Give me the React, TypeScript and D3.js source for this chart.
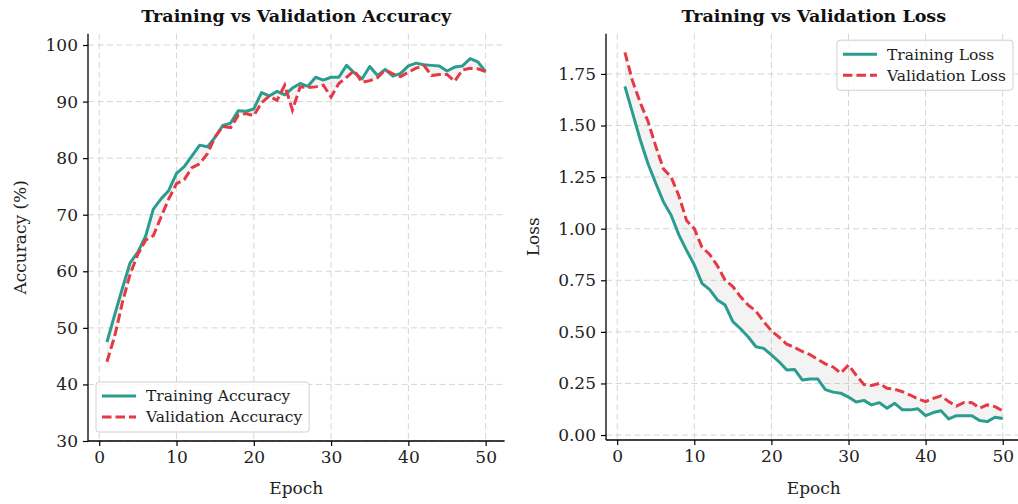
import React, { useEffect, useRef } from "react";
import * as d3 from "d3";

// epochs 1..50
const epochs = d3.range(1, 51);

const trainAcc = [
  47.5, 52.3, 57.0, 61.5, 63.4, 66.2, 71.0, 72.8, 74.3, 77.3,
  78.5, 80.4, 82.3, 82.0, 83.7, 85.8, 86.2, 88.4, 88.3, 88.7,
  91.6, 91.0, 91.8, 91.2, 92.4, 93.2, 92.7, 94.3, 93.8, 94.3,
  94.3, 96.4, 95.1, 94.0, 96.2, 94.6, 95.7, 94.5, 95.0, 96.3,
  96.8, 96.5, 96.4, 96.3, 95.4, 96.1, 96.3, 97.6, 97.0, 95.3,
];
const valAcc = [
  44.0, 48.5, 54.5, 59.5, 63.0, 65.5, 66.3, 69.6, 72.8, 75.5,
  76.2, 78.3, 79.0, 80.8, 83.8, 85.6, 85.4, 87.6, 87.9, 87.5,
  89.8, 91.0, 90.2, 92.9, 88.5, 92.6, 92.5, 92.6, 92.9, 90.8,
  93.2, 94.3, 95.5, 93.4, 93.7, 94.2, 95.6, 94.9, 94.4, 95.2,
  95.9, 96.4, 94.6, 94.8, 94.8, 93.6, 95.6, 95.9, 95.8, 95.3,
];
const trainLoss = [
  1.69, 1.56, 1.43, 1.315, 1.22, 1.13, 1.065, 0.97, 0.895, 0.825,
  0.735, 0.705, 0.655, 0.63, 0.55, 0.515, 0.475, 0.428, 0.42, 0.388,
  0.355, 0.315, 0.318, 0.267, 0.272, 0.272, 0.22, 0.208, 0.203, 0.184,
  0.16, 0.168, 0.146, 0.157, 0.13, 0.154, 0.122, 0.122, 0.127, 0.094,
  0.109, 0.118, 0.078, 0.094, 0.094, 0.094, 0.07, 0.065, 0.086, 0.08,
];
const valLoss = [
  1.855, 1.715, 1.61, 1.52, 1.4, 1.29, 1.25, 1.16, 1.04, 1.0,
  0.91, 0.875, 0.82, 0.75, 0.72, 0.67, 0.63, 0.6, 0.55, 0.505,
  0.475, 0.44, 0.425, 0.405, 0.39, 0.367, 0.345, 0.33, 0.3, 0.34,
  0.29, 0.245, 0.24, 0.25, 0.227, 0.222, 0.21, 0.194, 0.175, 0.162,
  0.178, 0.19, 0.162, 0.14, 0.158, 0.157, 0.13, 0.146, 0.138, 0.117,
];

const epochTicks = [0, 10, 20, 30, 40, 50];
const accTicks = [30, 40, 50, 60, 70, 80, 90, 100];
const lossTicks = [0, 0.25, 0.5, 0.75, 1.0, 1.25, 1.5, 1.75];

const TEAL = "#2a9d8f";
const RED = "#e63946";
const FONT = "'DejaVu Serif', serif";

const App = () => {
  const svgRef = useRef<SVGSVGElement>(null);

  useEffect(() => {
    const svg = d3.select(svgRef.current);
    svg.selectAll("*").remove();

    const panels = [
      {
        left: 88, right: 504.6, top: 33.7, bottom: 441,
        yDomain: [30, 102], yTicks: accTicks, yFmt: (d: number) => String(d),
        train: trainAcc, val: valAcc,
        title: "Training vs Validation Accuracy", ylabel: "Accuracy (%)", ylabelX: 20,
        names: ["Training Accuracy", "Validation Accuracy"], legendLoc: "lower left",
      },
      {
        left: 606, right: 1021.6, top: 33.7, bottom: 440,
        yDomain: [-0.024, 1.945], yTicks: lossTicks, yFmt: d3.format(".2f"),
        train: trainLoss, val: valLoss,
        title: "Training vs Validation Loss", ylabel: "Loss", ylabelX: 533,
        names: ["Training Loss", "Validation Loss"], legendLoc: "upper right",
      },
    ];

    panels.forEach((p) => {
      const x = d3.scaleLinear().domain([-1.45, 52.45]).range([p.left, p.right]);
      const y = d3.scaleLinear().domain(p.yDomain).range([p.bottom, p.top]);
      const g = svg.append("g");

      // grid
      epochTicks.forEach((t) => {
        g.append("line")
          .attr("x1", x(t)).attr("x2", x(t))
          .attr("y1", p.top).attr("y2", p.bottom)
          .attr("stroke", "#d6d6d6").attr("stroke-width", 1)
          .attr("stroke-dasharray", "6,3.5");
      });
      p.yTicks.forEach((t) => {
        g.append("line")
          .attr("x1", p.left).attr("x2", p.right)
          .attr("y1", y(t)).attr("y2", y(t))
          .attr("stroke", "#d6d6d6").attr("stroke-width", 1)
          .attr("stroke-dasharray", "6,3.5");
      });

      // shaded gap between curves
      const area = d3.area<number>()
        .x((d) => x(d))
        .y0((d, i) => y(p.val[i]))
        .y1((d, i) => y(p.train[i]));
      g.append("path").datum(epochs).attr("d", area)
        .attr("fill", "#888").attr("opacity", 0.1);

      const line = (vals: number[]) =>
        d3.line<number>().x((d) => x(d)).y((d, i) => y(vals[i]))(epochs);

      g.append("path").attr("d", line(p.train))
        .attr("fill", "none").attr("stroke", TEAL).attr("stroke-width", 3)
        .attr("stroke-linejoin", "round");
      g.append("path").attr("d", line(p.val))
        .attr("fill", "none").attr("stroke", RED).attr("stroke-width", 3)
        .attr("stroke-dasharray", "9.5,4");

      // axes
      const xAxis = g.append("g")
        .attr("transform", `translate(0,${p.bottom})`)
        .call(d3.axisBottom(x).tickValues(epochTicks).tickSize(5).tickPadding(5));
      const yAxis = g.append("g")
        .attr("transform", `translate(${p.left},0)`)
        .call(d3.axisLeft(y).tickValues(p.yTicks).tickFormat(p.yFmt as any).tickSize(5).tickPadding(5));
      [xAxis, yAxis].forEach((a) => {
        a.select(".domain").attr("stroke", "#000").attr("stroke-width", 1.3);
        a.selectAll(".tick line").attr("stroke", "#000").attr("stroke-width", 1.2);
        a.selectAll("text").attr("fill", "#222").style("font-family", FONT).style("font-size", "17px");
      });
      xAxis.select(".domain").attr("d", `M${p.left},0H${p.right}`);
      yAxis.select(".domain").attr("d", `M0,${p.bottom}V${p.top}`);

      // titles and labels
      g.append("text")
        .attr("x", (p.left + p.right) / 2).attr("y", 22)
        .attr("text-anchor", "middle")
        .style("font-family", FONT).style("font-size", "17.5px").style("font-weight", "bold")
        .attr("fill", "#111").text(p.title);
      g.append("text")
        .attr("x", (p.left + p.right) / 2).attr("y", 494)
        .attr("text-anchor", "middle")
        .style("font-family", FONT).style("font-size", "17px")
        .attr("fill", "#222").text("Epoch");
      g.append("text")
        .attr("transform", `translate(${p.ylabelX},${(p.top + p.bottom) / 2}) rotate(-90)`)
        .attr("text-anchor", "middle").attr("dy", "0.35em")
        .style("font-family", FONT).style("font-size", "17px")
        .attr("fill", "#222").text(p.ylabel);

      // legend
      const lg = g.append("g");
      const box = lg.append("rect")
        .attr("fill", "#fff").attr("fill-opacity", 0.8)
        .attr("stroke", "#d0d0d0").attr("rx", 3);
      const texts = p.names.map((n, i) => {
        lg.append("line")
          .attr("x1", 6).attr("x2", 40)
          .attr("y1", 14 + i * 21).attr("y2", 14 + i * 21)
          .attr("stroke", i === 0 ? TEAL : RED).attr("stroke-width", 3)
          .attr("stroke-dasharray", i === 0 ? null : "9.5,4");
        return lg.append("text")
          .attr("x", 50).attr("y", 14 + i * 21).attr("dy", "0.35em")
          .style("font-family", FONT).style("font-size", "15.5px")
          .attr("fill", "#222").text(n);
      });
      const tw = d3.max(texts, (t) => (t.node() as SVGTextElement).getComputedTextLength()) || 0;
      const bw = 50 + tw + 7;
      const bh = 50;
      box.attr("width", bw).attr("height", bh);
      if (p.legendLoc === "lower left") {
        lg.attr("transform", `translate(${p.left + 8},${p.bottom - 9 - bh})`);
      } else {
        lg.attr("transform", `translate(${1013 - bw},${p.top + 6.5})`);
      }
    });
  }, []);

  return (
    <svg
      ref={svgRef}
      width={1018}
      height={504}
      style={{ position: "absolute", left: 0, top: 0, background: "#fff" }}
    />
  );
};

export default App;
